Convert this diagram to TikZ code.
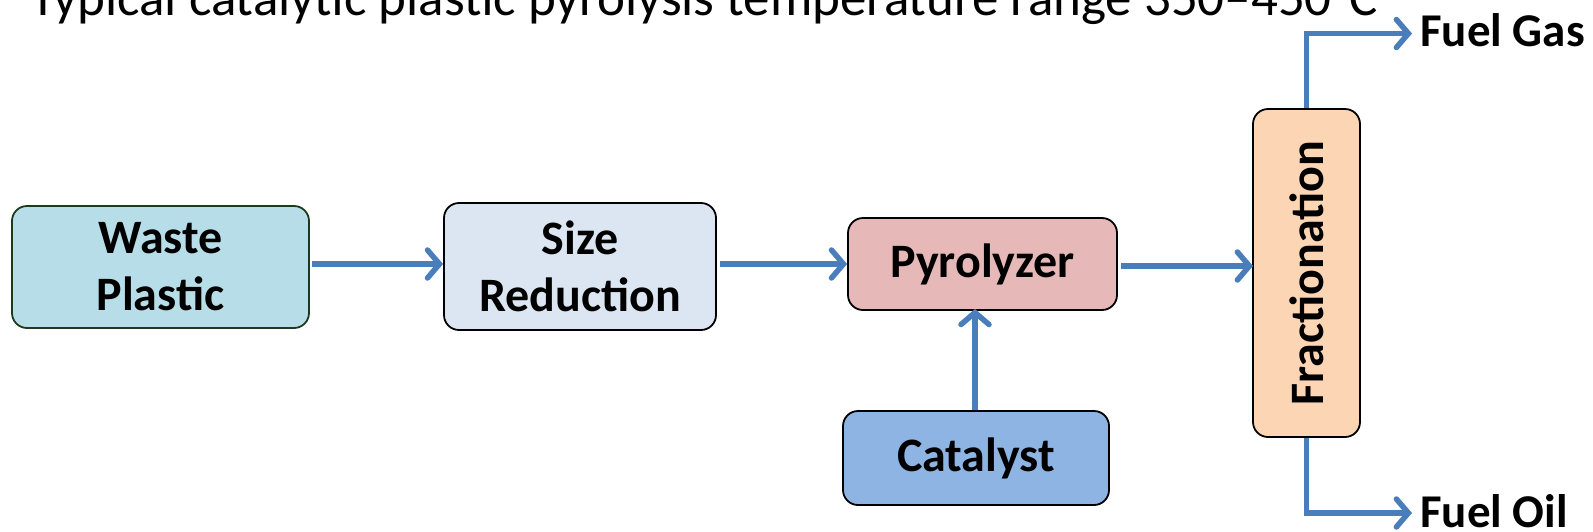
\documentclass[tikz,border=0pt]{standalone}
\usepackage{fontspec}
\setmainfont{Carlito}
\usetikzlibrary{arrows.meta}
\definecolor{arrowblue}{HTML}{4A7EBB}
\definecolor{wastefill}{HTML}{B7DEE8}
\definecolor{wasteline}{HTML}{1E3A1E}
\definecolor{sizefill}{HTML}{DCE6F2}
\definecolor{pyrofill}{HTML}{E6B9B8}
\definecolor{catfill}{HTML}{8EB4E3}
\definecolor{fracfill}{HTML}{FCD5B5}
\tikzset{
  procbox/.style={draw=black, line width=1.8pt, rounded corners=15pt, inner sep=0pt,
    align=center, font=\fontsize{48}{57}\selectfont\bfseries},
  flow/.style={draw=arrowblue, line width=5.5pt, -{Straight Barb[length=12pt,width=28pt,line cap=round]}},
  outlabel/.style={inner sep=0pt, anchor=base west, font=\fontsize{47}{50}\selectfont\bfseries},
}
\begin{document}
\begin{tikzpicture}[x=1pt,y=-1pt]
\useasboundingbox (0,0) rectangle (1593,531);
\node[inner sep=0pt, anchor=base west, font=\fontsize{53}{56}\selectfont] (title) at (30,15)
  {Typical catalytic plastic pyrolysis temperature range 350–450°C};
\node[procbox, draw=wasteline, fill=wastefill, minimum width=297pt, minimum height=122pt] (waste) at (160.5,267) {Waste\\Plastic};
\node[procbox, fill=sizefill, minimum width=272pt, minimum height=127pt] (size) at (580,266.5) {Size\\Reduction};
\node[procbox, fill=pyrofill, minimum width=269pt, minimum height=92pt] (pyro) at (982.5,264) {Pyrolyzer};
\node[procbox, fill=catfill, minimum width=266pt, minimum height=94pt] (cat) at (976,458) {Catalyst};
\node[procbox, fill=fracfill, rotate=90, minimum width=328pt, minimum height=107pt] (frac) at (1306.5,273) {Fractionation};
\node[outlabel] (gas) at (1420,46) {Fuel Gas};
\node[outlabel] (oil) at (1420,527) {Fuel Oil};
\coordinate (wout) at (312,264);
\coordinate (gend) at (1412,33.5);
\coordinate (oend) at (1412,513);
\draw[flow] (wout) -- (wout -| size.west);
\draw[flow] ([xshift=3pt]size.east |- wout) -- (wout -| pyro.west);
\draw[flow] ([xshift=3pt]pyro.east |- 0,266) -- (1253,266) coordinate (fin);
\draw[flow] (cat.north -| 975,0) -- ([yshift=2pt]pyro.south -| 975,0);
\draw[flow] (frac.east) |- (gend);
\draw[flow] (frac.west) |- (oend);
\end{tikzpicture}
\end{document}
